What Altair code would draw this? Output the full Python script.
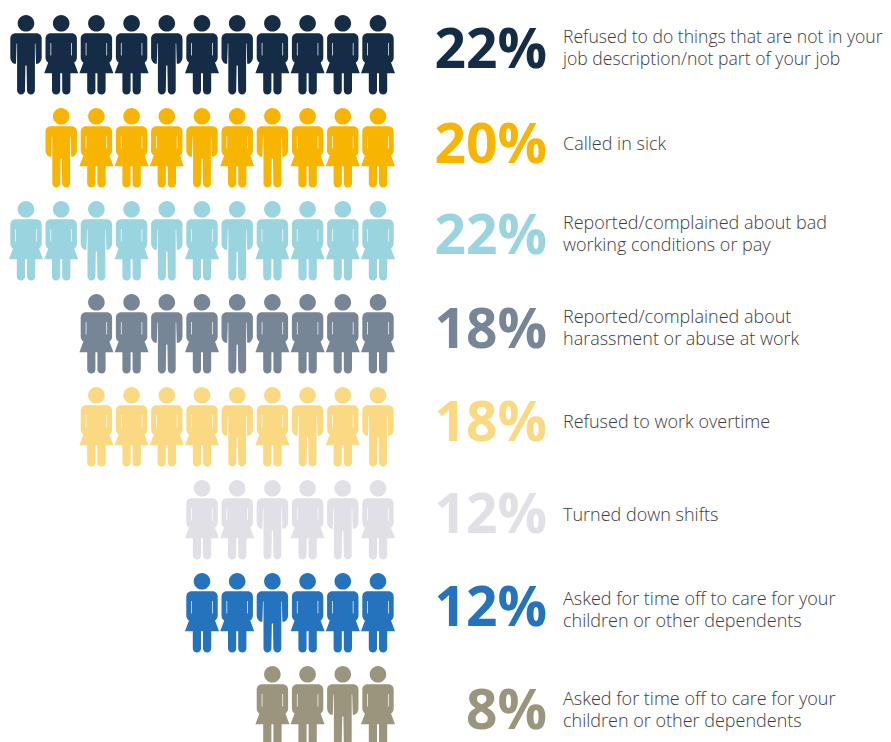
import altair as alt
import pandas as pd

# --- content -----------------------------------------------------------------
PERCENTS = ["22%", "20%", "22%", "18%", "18%", "12%", "12%", "8%"]
COLORS = ["#142C46", "#F7B400", "#9AD4DF", "#778696", "#FBD983", "#E0E0E6", "#2473BC", "#9C957E"]
PEOPLE = ["MFFFMFMFFFF", "MFFFMFMFFF", "FFMFMFMFFFF", "FFMFMFFFF",
          "FFFFMFMFM", "FFMFMF", "FFMFFF", "FFMF"]
LABELS = [
    ["Refused to do things that are not in your", "job description/not part of your job"],
    ["Called in sick"],
    ["Reported/complained about bad", "working conditions or pay"],
    ["Reported/complained about", "harassment or abuse at work"],
    ["Refused to work overtime"],
    ["Turned down shifts"],
    ["Asked for time off to care for your", "children or other dependents"],
    ["Asked for time off to care for your", "children or other dependents"],
]

# --- glyphs (unit = px, centre of the figure at 0,0) -----------------------------
LEGS_M = "L8.9 36 A3.9 3.9 0 0 1 1 36 L0.6 11 L-0.6 11 L-1 36 A3.9 3.9 0 0 1 -8.9 36 "
HEAD = "M8.3 -31.3 A8.3 8.3 0 1 1 -8.3 -31.3 A8.3 8.3 0 1 1 8.3 -31.3 Z "
MALE = (HEAD +
        "M-10.5 -21.3 L10.5 -21.3 C13.5 -21.3 15.7 -19 15.7 -16 L15.7 3 "
        "C15.7 6 14 8 12 9.3 L10 9.3 L9.4 -11 L8.9 -11 " + LEGS_M +
        "L-8.9 -11 L-9.4 -11 L-10 9.3 L-12 9.3 C-14 8 -15.7 6 -15.7 3 L-15.7 -16 "
        "C-15.7 -19 -13.5 -21.3 -10.5 -21.3 Z")
FEMALE = (HEAD +
          "M-10.5 -21.3 L10.5 -21.3 C13.5 -21.3 15.7 -19 15.7 -16 L15.7 3 "
          "C15.7 5.5 14.5 7 13 8 L17 18.7 L9.2 18.7 L9.2 36 A4 4 0 0 1 1 36 L1 18.7 "
          "L-1 18.7 L-1 36 A4 4 0 0 1 -9.2 36 L-9.2 18.7 L-17 18.7 L-13 8 "
          "C-14.5 7 -15.7 5.5 -15.7 3 L-15.7 -16 C-15.7 -19 -13.5 -21.3 -10.5 -21.3 Z "
          "M10 -11.5 L10 1 L10.7 1 L10.7 -11.5 Z M-10.7 -11.5 L-10.7 1 L-10 1 L-10 -11.5 Z")

# --- layout ------------------------------------------------------------------
W, H = 875, 734
COL_W, ROW_H = 35.2, 93.0
X0, Y0 = 18.0, 46.5            # plot position of column 0 / row 0
N_COLS = 11
x_scale = alt.Scale(domain=[-X0 / COL_W, (W - X0) / COL_W], nice=False, zero=False)
y_scale = alt.Scale(domain=[(H - Y0) / ROW_H, -Y0 / ROW_H], nice=False, zero=False)
PCT_COL = (539 - X0) / COL_W
LAB_COL = (555 - X0) / COL_W
PCT_DY = [-4, -2, -4, -3, -3, -4, -4, 6]
LAB_DY = [-16.5, -2.5, -16.5, -15.5, -3.5, -3.5, -12.5, -5.5]
LAB_SIZE = [17.6, 18, 18, 18, 18, 18, 18, 18]

rows = []
for r, seq in enumerate(PEOPLE):
    for i, s in enumerate(seq):
        rows.append({"row": r, "col": N_COLS - len(seq) + i, "sex": s})
people = pd.DataFrame(rows)

X = alt.X("col:Q", scale=x_scale, axis=None)
Y = alt.Y("row:Q", scale=y_scale, axis=None)
color = alt.Color("row:N", scale=alt.Scale(domain=list(range(8)), range=COLORS), legend=None)

figures = alt.Chart(people).mark_point(filled=True, opacity=1, strokeWidth=0, clip=False).encode(
    x=X, y=Y, color=color,
    shape=alt.Shape("sex:N", scale=alt.Scale(domain=["M", "F"], range=[MALE, FEMALE]), legend=None),
    size=alt.value(4),
)

layers = [figures]
for r in range(8):
    pct = pd.DataFrame({"row": [r], "col": [PCT_COL], "t": [PERCENTS[r]]})
    layers.append(alt.Chart(pct).mark_text(
        font="Open Sans", fontWeight=700, fontSize=55, align="right", baseline="middle",
        dy=PCT_DY[r], color=COLORS[r]).encode(x=X, y=Y, text="t:N"))
    lab = pd.DataFrame({"row": [r], "col": [LAB_COL], "t": [LABELS[r]]})
    layers.append(alt.Chart(lab).mark_text(
        font="Open Sans", fontWeight=300, fontSize=LAB_SIZE[r], align="left", baseline="middle",
        lineHeight=22, dy=LAB_DY[r], color="#3C3C3C").encode(x=X, y=Y, text="t"))

chart = alt.layer(*layers).properties(
    width=W, height=H, padding=0, background="white",
    autosize=alt.AutoSizeParams(type="none"),
).configure_view(stroke=None)

chart.save("out.html", embed_options={"renderer": "svg", "actions": False})
